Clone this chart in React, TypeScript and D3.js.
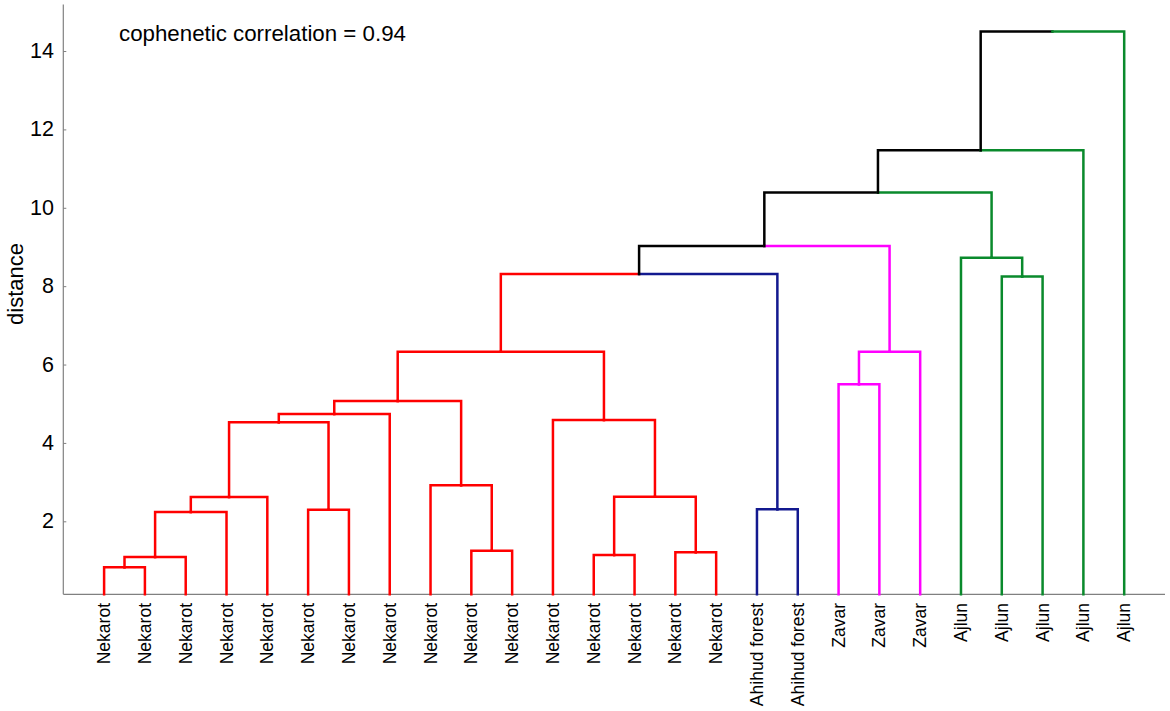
import * as d3 from 'd3'

const width = 1170
const height = 711

// leaf labels in display order
const leafLabels = [
  'Nekarot', 'Nekarot', 'Nekarot', 'Nekarot', 'Nekarot', 'Nekarot', 'Nekarot', 'Nekarot',
  'Nekarot', 'Nekarot', 'Nekarot', 'Nekarot', 'Nekarot', 'Nekarot', 'Nekarot', 'Nekarot',
  'Ahihud forest', 'Ahihud forest',
  'Zavar', 'Zavar', 'Zavar',
  'Ajlun', 'Ajlun', 'Ajlun', 'Ajlun', 'Ajlun'
]

const groupColors = {
  Nekarot: '#ff0000',
  'Ahihud forest': '#13198f',
  Zavar: '#ff00ff',
  Ajlun: '#0a8a2c'
}

// linkage rows: [left node, right node, distance]; leaves are 0..25, new nodes from 26
const merges = [
  [0, 1, 0.84],
  [26, 2, 1.1],
  [27, 3, 2.25],
  [28, 4, 2.63],
  [5, 6, 2.31],
  [29, 30, 4.54],
  [31, 7, 4.75],
  [9, 10, 1.26],
  [8, 33, 2.93],
  [32, 34, 5.08],
  [12, 13, 1.15],
  [14, 15, 1.22],
  [36, 37, 2.64],
  [11, 38, 4.6],
  [35, 39, 6.34],
  [16, 17, 2.32],
  [40, 41, 8.32],
  [18, 19, 5.51],
  [43, 20, 6.34],
  [42, 44, 9.04],
  [22, 23, 8.26],
  [21, 46, 8.74],
  [45, 47, 10.4],
  [48, 24, 11.48],
  [49, 25, 14.51]
]

const yTicks = [2, 4, 6, 8, 10, 12, 14]

const App = () => {
  const x = d3.scaleLinear().domain([0, leafLabels.length + 1]).range([63.3, 1165])
  const y = d3.scaleLinear().domain([0.15, 15.2]).range([594.3, 4.5])

  // node positions, heights and colours
  const nodeX = leafLabels.map((_, i) => i + 1)
  const nodeH = leafLabels.map(() => y.domain()[0])
  const nodeC = leafLabels.map((l) => groupColors[l])
  merges.forEach(([a, b, h]) => {
    nodeX.push((nodeX[a] + nodeX[b]) / 2)
    nodeH.push(h)
    nodeC.push(nodeC[a] === nodeC[b] ? nodeC[a] : '#000000')
  })

  const links = merges.flatMap(([a, b, h], i) => {
    const cx = x(nodeX[leafLabels.length + i])
    return [a, b].map((c) => {
      const p = d3.path()
      p.moveTo(x(nodeX[c]), y(nodeH[c]))
      p.lineTo(x(nodeX[c]), y(h))
      p.lineTo(cx, y(h))
      return { d: p.toString(), color: nodeC[c], key: `${i}-${c}` }
    })
  })

  const [y0, y1] = y.range()
  const font = 'Arial, "Liberation Sans", Helvetica, sans-serif'

  return (
    <svg
      width={width}
      height={height}
      style={{ position: 'absolute', left: 0, top: 0, background: '#fff' }}
      fontFamily={font}
    >
      {/* axes */}
      <line x1={x.range()[0]} x2={x.range()[0]} y1={y1} y2={y0} stroke='#808080' strokeWidth={1.2} />
      <line x1={x.range()[0]} x2={x.range()[1]} y1={y0} y2={y0} stroke='#808080' strokeWidth={1.2} />
      {yTicks.map((t) => (
        <g key={t}>
          <line x1={x.range()[0]} x2={x.range()[0] + 3} y1={y(t)} y2={y(t)} stroke='#808080' />
          <text x={54} y={y(t) + 6.5} textAnchor='end' fontSize={21.5} fill='#000'>
            {t}
          </text>
        </g>
      ))}
      <text transform='translate(23,284) rotate(-90)' textAnchor='middle' fontSize={22} fill='#000'>
        distance
      </text>

      {/* dendrogram links */}
      {links.map((l) => (
        <path key={l.key} d={l.d} fill='none' stroke={l.color} strokeWidth={2.5} strokeLinecap='square' />
      ))}

      {/* leaf labels */}
      {leafLabels.map((l, i) => (
        <text
          key={i}
          transform={`translate(${x(i + 1) + 6},603) rotate(-90)`}
          textAnchor='end'
          fontSize={17.5}
          fill='#000'
        >
          {l}
        </text>
      ))}

      <text x={119} y={41} fontSize={22.3} fill='#000'>
        cophenetic correlation = 0.94
      </text>
    </svg>
  )
}

export default App
